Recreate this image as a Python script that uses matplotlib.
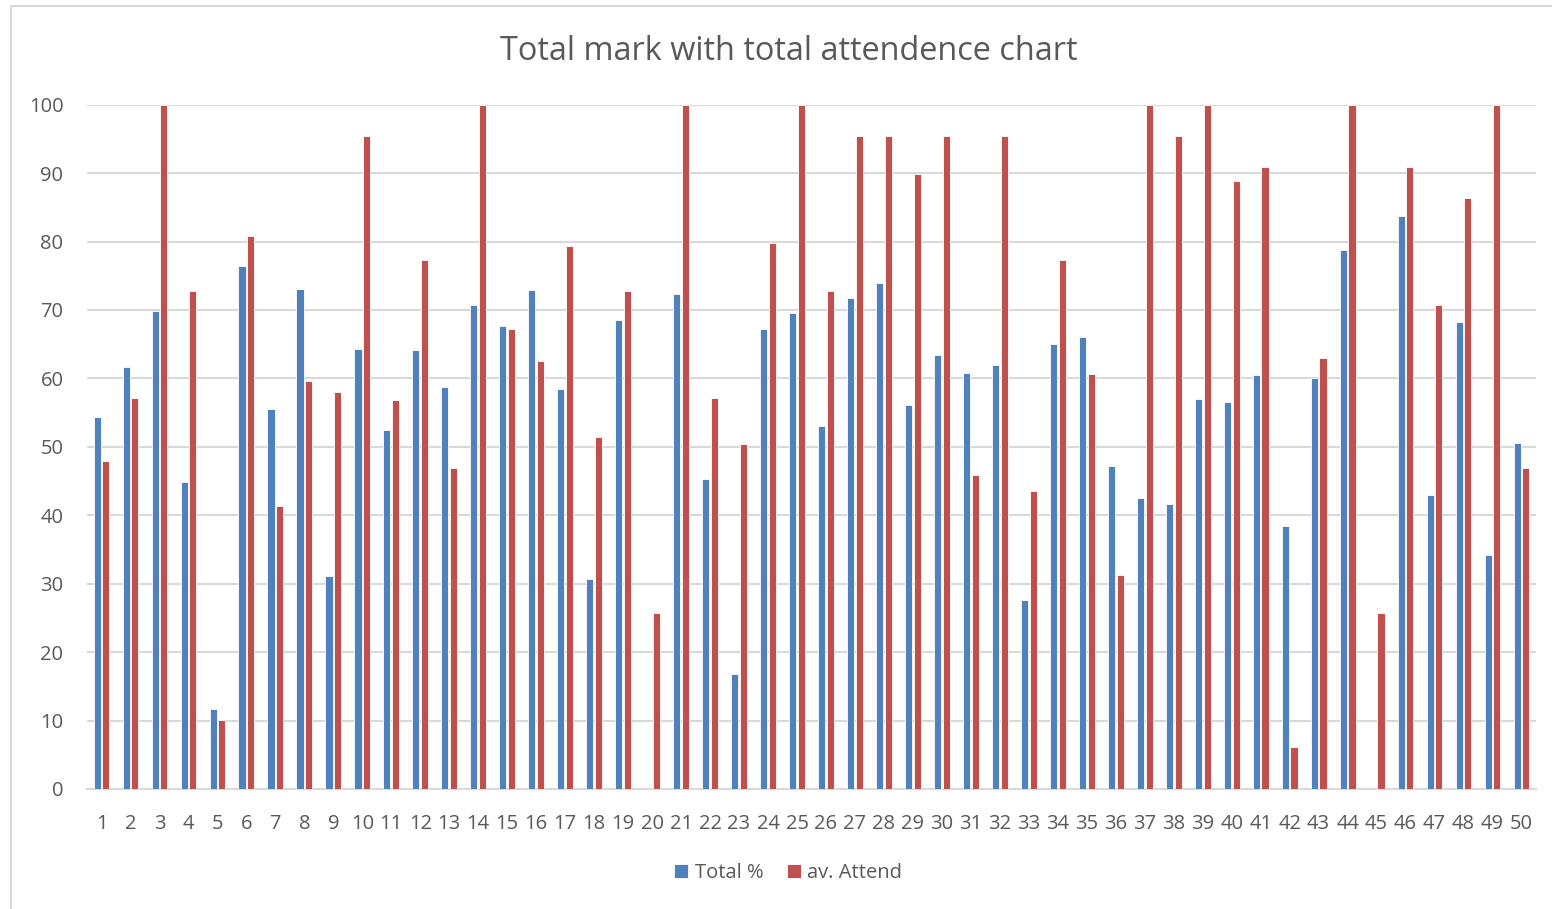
import matplotlib
matplotlib.use("Agg")
import matplotlib.pyplot as plt
from matplotlib.patches import Rectangle
import numpy as np

plt.rcParams['font.family'] = ['Open Sans', 'DejaVu Sans']

categories = [str(i) for i in range(1, 51)]
total_pct = [54.3, 61.7, 69.8, 44.9, 11.7, 76.4, 55.5, 73.1, 31.1, 64.3,
             52.4, 64.2, 58.7, 70.7, 67.7, 72.9, 58.4, 30.7, 68.5, 0.0,
             72.4, 45.3, 16.8, 67.2, 69.6, 53.1, 71.7, 74.0, 56.1, 63.4,
             60.8, 62.0, 27.6, 65.0, 66.1, 47.2, 42.5, 41.7, 57.0, 56.5,
             60.5, 38.4, 60.1, 78.8, 0.0, 83.8, 42.9, 68.3, 34.2, 50.6]
av_attend = [48.0, 57.1, 100.0, 72.8, 10.1, 80.8, 41.4, 59.6, 58.0, 95.4,
             56.8, 77.3, 46.9, 100.0, 67.2, 62.6, 79.4, 51.4, 72.8, 25.7,
             100.0, 57.1, 50.4, 79.8, 100.0, 72.8, 95.4, 95.4, 89.9, 95.4,
             45.9, 95.4, 43.5, 77.3, 60.6, 31.3, 100.0, 95.4, 100.0, 88.9,
             90.9, 6.2, 63.0, 100.0, 25.7, 90.9, 70.7, 86.3, 100.0, 46.9]
y_ticks = [0, 10, 20, 30, 40, 50, 60, 70, 80, 90, 100]

BLUE = '#4F81BD'
RED = '#C0504D'
TEXT = '#595959'
GRID = '#D9D9D9'

fig = plt.figure(figsize=(15.52, 9.09), dpi=100)
fig.patches.append(Rectangle((10.5 / 1552, -0.01), 1.1, 1 - 6 / 909 + 0.01,
                             transform=fig.transFigure, fill=False,
                             edgecolor=GRID, linewidth=1.5, zorder=0))

ax = fig.add_axes([87 / 1552, 1 - 789 / 909, (1536 - 87) / 1552, (789 - 104.7) / 909])

x = np.arange(len(categories))
w = 0.245
ax.bar(x - 0.15, total_pct, width=w, color=BLUE, edgecolor='white',
       linewidth=0.6, label='Total %', zorder=3)
ax.bar(x + 0.15, av_attend, width=w, color=RED, edgecolor='white',
       linewidth=0.6, label='av. Attend', zorder=3)

ax.set_xlim(-0.5, len(categories) - 0.5)
ax.set_ylim(0, 100)
ax.set_yticks(y_ticks)
ax.set_xticks(x)
ax.set_xticklabels(categories)
ax.yaxis.grid(True, color=GRID, linewidth=1.5, zorder=0)
ax.set_axisbelow(True)
for side in ['top', 'right', 'left']:
    ax.spines[side].set_visible(False)
ax.spines['bottom'].set_color(GRID)
ax.spines['bottom'].set_linewidth(1.5)
ax.tick_params(axis='both', length=0, labelsize=14.5, colors=TEXT)
ax.tick_params(axis='x', pad=18)
ax.tick_params(axis='y', pad=17)

fig.text(0.508, 1 - 51 / 909, 'Total mark with total attendence chart',
         ha='center', va='center', fontsize=23.4, color=TEXT)

leg = fig.legend(loc='center', bbox_to_anchor=(0.508, 1 - 873 / 909), ncol=2,
                 frameon=False, fontsize=14.5, handlelength=0.7, handleheight=0.7,
                 columnspacing=1.2, handletextpad=0.3, labelcolor=TEXT)

fig.savefig('out.png', dpi=100)
